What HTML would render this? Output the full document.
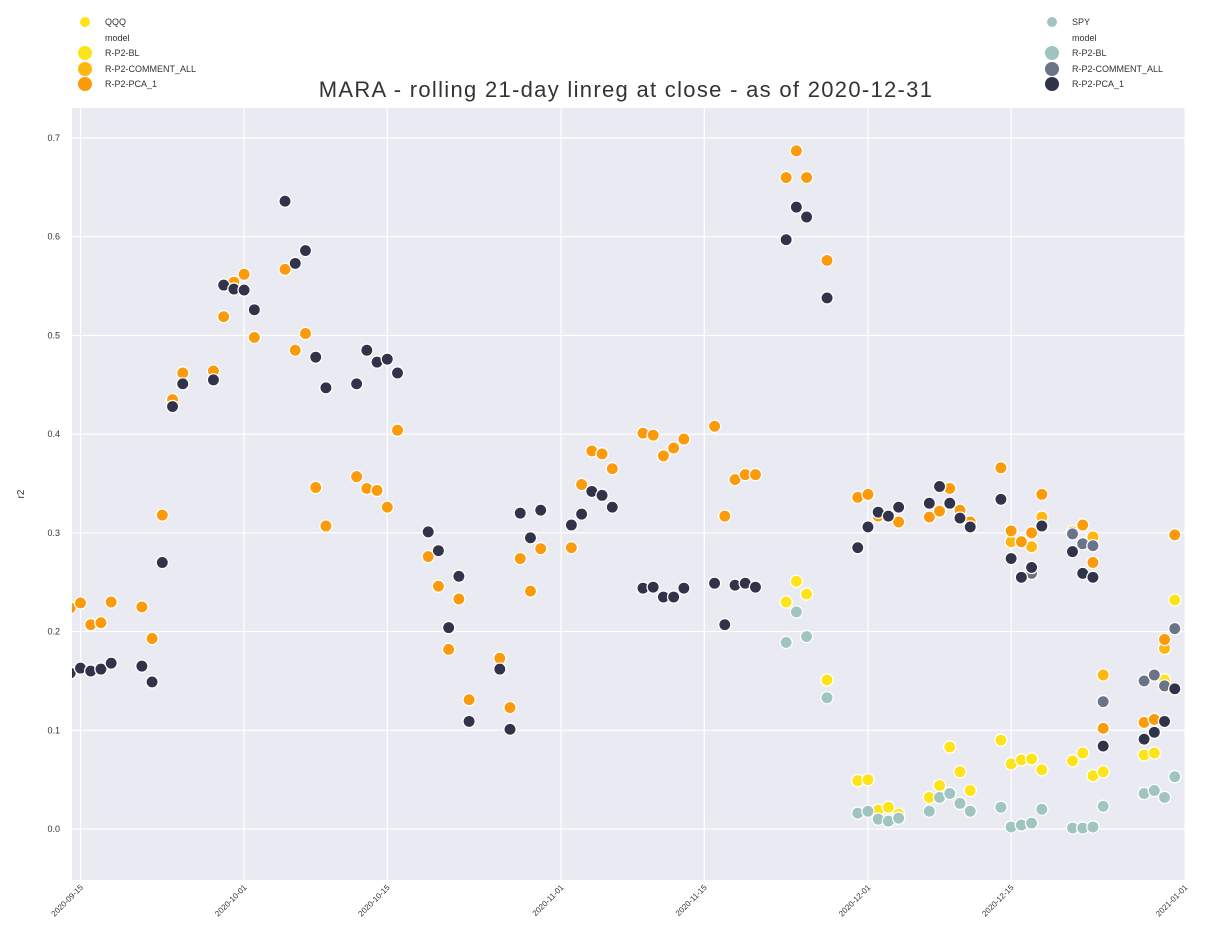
<!DOCTYPE html>
<html><head><meta charset="utf-8"><title>MARA rolling linreg</title>
<style>
html,body{margin:0;padding:0;background:#fff;}
svg{display:block;font-family:"Liberation Sans",sans-serif;}
</style></head>
<body>
<svg id="chart" width="1224" height="952"></svg>
<script>
const dates=["2020-09-14","2020-09-15","2020-09-16","2020-09-17","2020-09-18","2020-09-21","2020-09-22","2020-09-23","2020-09-24","2020-09-25","2020-09-28","2020-09-29","2020-09-30",
"2020-10-01","2020-10-02","2020-10-05","2020-10-06","2020-10-07","2020-10-08","2020-10-09","2020-10-12","2020-10-13","2020-10-14","2020-10-15","2020-10-16","2020-10-19","2020-10-20","2020-10-21","2020-10-22","2020-10-23","2020-10-26","2020-10-27","2020-10-28","2020-10-29","2020-10-30",
"2020-11-02","2020-11-03","2020-11-04","2020-11-05","2020-11-06","2020-11-09","2020-11-10","2020-11-11","2020-11-12","2020-11-13","2020-11-16","2020-11-17","2020-11-18","2020-11-19","2020-11-20","2020-11-23","2020-11-24","2020-11-25","2020-11-27",
"2020-11-30","2020-12-01","2020-12-02","2020-12-03","2020-12-04","2020-12-07","2020-12-08","2020-12-09","2020-12-10","2020-12-11","2020-12-14","2020-12-15","2020-12-16","2020-12-17","2020-12-18","2020-12-21","2020-12-22","2020-12-23","2020-12-24","2020-12-28","2020-12-29","2020-12-30","2020-12-31"];
const qqqPca=[.224,.229,.207,.209,.230,.225,.193,.318,.435,.462,.464,.519,.554,
.562,.498,.567,.485,.502,.346,.307,.357,.345,.343,.326,.404,.276,.246,.182,.233,.131,.173,.123,.274,.241,.284,
.285,.349,.383,.380,.365,.401,.399,.378,.386,.395,.408,.317,.354,.359,.359,.660,.687,.660,.576,
.336,.339,.317,.317,.311,.316,.322,.345,.323,.311,.366,.302,.291,.300,.339,.301,.308,.270,.102,.108,.111,.192,.298];
const qqqCaDec=[.336,.339,.317,.317,.311,.316,.322,.345,.323,.311,.366,.291,.291,.286,.316,.301,.308,.296,.156,.108,.111,.183,.298];
const qqqBlLate=[.230,.251,.238,.151,.049,.050,.019,.022,.015,.032,.044,.083,.058,.039,.090,.066,.070,.071,.060,.069,.077,.054,.058,.075,.077,.151,.232];
const spyPca=[.158,.163,.160,.162,.168,.165,.149,.270,.428,.451,.455,.551,.547,
.546,.526,.636,.573,.586,.478,.447,.451,.485,.473,.476,.462,.301,.282,.204,.256,.109,.162,.101,.320,.295,.323,
.308,.319,.342,.338,.326,.244,.245,.235,.235,.244,.249,.207,.247,.249,.245,.597,.630,.620,.538,
.285,.306,.321,.317,.326,.330,.347,.330,.315,.306,.334,.274,.255,.265,.307,.281,.259,.255,.084,.091,.098,.109,.142];
const spyCaDec=[.285,.306,.321,.317,.326,.330,.347,.330,.315,.306,.334,.274,.255,.259,.307,.299,.289,.287,.129,.150,.156,.145,.203];
const spyBlLate=[.189,.220,.195,.133,.016,.018,.010,.008,.011,.018,.032,.036,.026,.018,.022,.002,.004,.006,.020,.001,.001,.002,.023,.036,.039,.032,.053];
const yTicks=[0,0.1,0.2,0.3,0.4,0.5,0.6,0.7];
const xTicks=["2020-09-15","2020-10-01","2020-10-15","2020-11-01","2020-11-15","2020-12-01","2020-12-15","2021-01-01"];

const NS="http://www.w3.org/2000/svg";
const svg=document.getElementById('chart');
function mk(tag,attrs,parent){const e=document.createElementNS(NS,tag);for(const k in attrs)e.setAttribute(k,attrs[k]);(parent||svg).appendChild(e);return e;}
const L=72,R=1185,T=108,B=880;
const day=s=>Date.parse(s+"T00:00:00Z")/86400000;
const pxDay=1106/108;
const t0=day("2020-09-15")-7/pxDay;
const xS=s=>L+1.5+(day(s)-t0)*pxDay*(1104.5/1106);
const yS=v=>829-v*987.1;
function pad(arr){const n=dates.length-arr.length;return Array(n).fill(null).concat(arr);}

const bg=mk('rect',{x:L,y:T,width:R-L,height:B-T,fill:'#eaeaf2'});


const grid=mk('g',{});


yTicks.forEach(v=>{
  mk('line',{x1:L,x2:R,y1:yS(v),y2:yS(v),stroke:'#fff','stroke-width':1.2},grid);
  const t=mk('text',{x:L-12,y:yS(v)+3,'font-size':9,fill:'#333','text-anchor':'end'});
  t.textContent=v.toFixed(1);
  
  
});
xTicks.forEach(s=>{
  const x=xS(s);
  mk('line',{x1:x,x2:x,y1:T,y2:B,stroke:'#fff','stroke-width':1.2},grid);
  const t=mk('text',{x:x+3,y:B+8,'font-size':8,fill:'#333','text-anchor':'end',transform:`rotate(-45 ${x+3} ${B+8})`});
  t.textContent=s;
  
  
});
const yl=mk('text',{x:24,y:494,'font-size':10,fill:'#333','text-anchor':'middle',transform:'rotate(-90 24 494)'});
yl.textContent='r2';


const title=mk('text',{x:626,y:97,'font-size':22,fill:'#333','text-anchor':'middle','letter-spacing':'1.3'});
title.textContent='MARA - rolling 21-day linreg at close - as of 2020-12-31';



const clip=mk('clipPath',{id:'pc'});mk('rect',{x:L,y:T,width:R-L,height:B-T},clip);
const series=[
 {name:'qqq-bl',vals:pad(qqqBlLate),c:'#fde41a'},
 {name:'qqq-comment-all',vals:pad(qqqCaDec),c:'#fdb70f'},
 {name:'qqq-pca-1',vals:qqqPca,c:'#fb9b0b'},
 {name:'spy-bl',vals:pad(spyBlLate),c:'#a0c4c0'},
 {name:'spy-comment-all',vals:pad(spyCaDec),c:'#6a7488'},
 {name:'spy-pca-1',vals:spyPca,c:'#31334a'}];
series.forEach(s=>{
  const g=mk('g',{'clip-path':'url(#pc)'});
  
  
  s.vals.forEach((v,i)=>{
    if(v==null)return;
    const c=mk('circle',{cx:xS(dates[i]),cy:yS(v),r:6.1,fill:s.c,stroke:'#fff','stroke-width':1.3},g);
    
    
  });
});

function legend(x,y,items,name){
  const g=mk('g',{});
  
  
  items.forEach((it,i)=>{
    const yy=y+[0,16,31,47,62][i];
    if(it[1]){mk('circle',{cx:x,cy:yy,r:i==0?5:7,fill:it[1]},g);}
    const t=mk('text',{x:x+20,y:yy+3,'font-size':9,fill:'#333'},g);
    t.textContent=it[0];
    
    
  });
}
legend(85,22,[['QQQ','#fde41a'],['model',null],['R-P2-BL','#fde41a'],['R-P2-COMMENT_ALL','#fdb70f'],['R-P2-PCA_1','#fb9b0b']],'legend-qqq');
legend(1052,22,[['SPY','#a0c4c0'],['model',null],['R-P2-BL','#a0c4c0'],['R-P2-COMMENT_ALL','#6a7488'],['R-P2-PCA_1','#31334a']],'legend-spy');
</script>
</body></html>
